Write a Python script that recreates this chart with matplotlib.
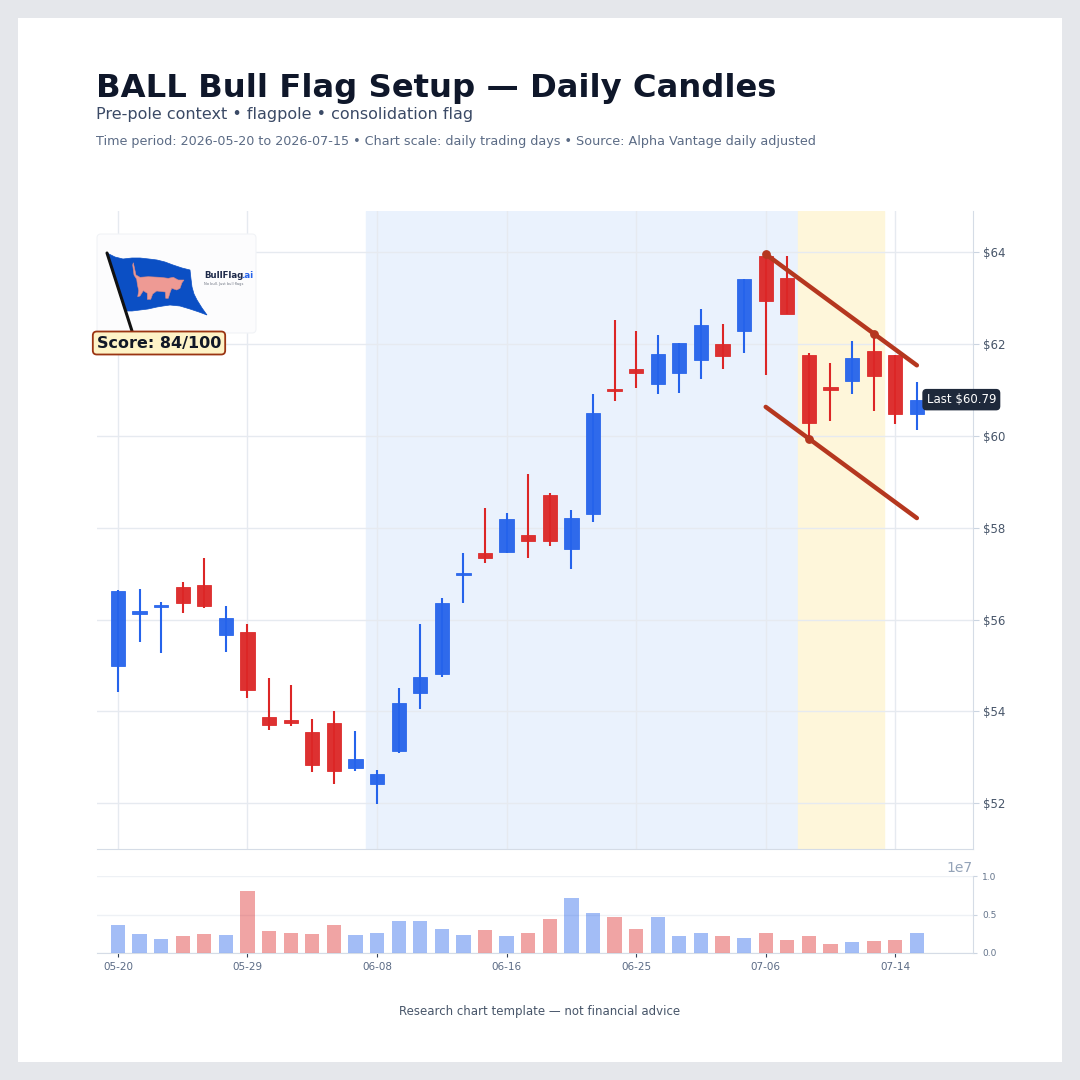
import numpy as np
import matplotlib
matplotlib.use("Agg")
import matplotlib.pyplot as plt
from matplotlib.patches import Rectangle, FancyBboxPatch, Polygon

# Data: daily candles (trading days only)
dates = ["05-20", "05-21", "05-22", "05-26", "05-27", "05-28", "05-29", "06-01",
         "06-02", "06-03", "06-04", "06-05", "06-08", "06-09", "06-10", "06-11",
         "06-12", "06-15", "06-16", "06-17", "06-18", "06-22", "06-23", "06-24",
         "06-25", "06-26", "06-29", "06-30", "07-01", "07-02", "07-06", "07-07",
         "07-08", "07-09", "07-10", "07-13", "07-14", "07-15"]
opens = [54.98, 56.13, 56.27, 56.71, 56.76, 55.67, 55.73, 53.87, 53.82, 53.55,
         53.75, 52.77, 52.41, 53.14, 54.40, 54.81, 56.96, 57.45, 57.46, 57.85,
         58.72, 57.53, 58.29, 61.00, 61.45, 61.13, 61.38, 61.65, 62.00, 62.29,
         63.93, 63.43, 61.77, 61.06, 61.19, 61.85, 61.77, 60.48]
highs = [56.64, 56.66, 56.38, 56.81, 57.33, 56.29, 55.91, 54.72, 54.57, 53.83,
         54.01, 53.57, 52.73, 54.50, 55.91, 56.46, 57.45, 58.43, 58.32, 59.18,
         58.76, 58.38, 60.91, 62.53, 62.29, 62.19, 62.03, 62.77, 62.43, 63.41,
         63.96, 63.91, 61.81, 61.59, 62.07, 62.23, 61.77, 61.18]
lows = [54.42, 55.51, 55.27, 56.15, 56.24, 55.30, 54.28, 53.59, 53.68, 52.68,
        52.41, 52.70, 51.98, 53.10, 54.04, 54.75, 56.36, 57.23, 57.45, 57.35,
        57.60, 57.10, 58.13, 60.76, 61.05, 60.91, 60.94, 61.25, 61.45, 61.81,
        61.32, 62.65, 59.94, 60.32, 60.92, 60.54, 60.27, 60.12]
closes = [56.62, 56.15, 56.31, 56.35, 56.30, 56.04, 54.46, 53.71, 53.75, 52.84,
          52.70, 52.95, 52.63, 54.18, 54.74, 56.36, 56.99, 57.34, 58.19, 57.71,
          57.71, 58.21, 60.49, 60.98, 61.36, 61.79, 62.02, 62.41, 61.74, 63.41,
          62.93, 62.65, 60.28, 61.00, 61.69, 61.30, 60.47, 60.79]
volumes_m = [3.7, 2.5, 1.8, 2.25, 2.5, 2.38, 8.1, 2.9, 2.6, 2.5, 3.7, 2.38, 2.6,
             4.2, 4.1, 3.15, 2.4, 3.0, 2.25, 2.6, 4.4, 7.2, 5.2, 4.7, 3.15, 4.7,
             2.25, 2.6, 2.25, 1.9, 2.6, 1.65, 2.25, 1.2, 1.4, 1.5, 1.7, 2.6]

# Phases (bar indices) and flag trendline anchors
pole_bars = (12, 31)
flag_bars = (32, 35)
upper_pts = [(30, 63.96), (35, 62.23)]
lower_anchor = (32, 59.94)
score_text = "Score: 84/100"

UP = "#2563eb"
DOWN = "#dc2626"
GRID = "#e6eaf0"
TEXT_MUTED = "#475569"


def draw_candles(ax, x):
    for i in x:
        o, h, l, c = opens[i], highs[i], lows[i], closes[i]
        col = UP if c >= o else DOWN
        ax.vlines(i, l, h, color=col, lw=1.5, zorder=3)
        bottom = min(o, c)
        height = max(abs(c - o), 0.05)
        ax.bar(i, height, bottom=bottom, width=0.66, color=col, alpha=0.95,
               edgecolor=col, linewidth=0.6, zorder=4)


def draw_flag_lines(ax):
    (x0, y0), (x1, y1) = upper_pts
    slope = (y1 - y0) / (x1 - x0)
    xe = len(closes) - 1
    ax.plot([x0, xe], [y0, y0 + slope * (xe - x0)], color="#b5371f", lw=3.2,
            solid_capstyle="round", zorder=6)
    lx, ly = lower_anchor
    ax.plot([x0, xe], [ly + slope * (x0 - lx), ly + slope * (xe - lx)],
            color="#b5371f", lw=3.2, solid_capstyle="round", zorder=6)
    ax.scatter([x0, x1, lx], [y0, y1, ly], s=28, color="#b5371f", zorder=7)


def draw_logo(fig):
    # small brand badge, drawn in pixel-like coordinates
    lax = fig.add_axes([96 / 1080, 1 - 335 / 1080, 162 / 1080, 102 / 1080])
    lax.set_xlim(96, 258)
    lax.set_ylim(335, 233)
    lax.axis("off")
    lax.add_patch(FancyBboxPatch((97, 234), 159, 99, boxstyle="round,pad=0,rounding_size=4",
                                 fc="#fcfcfd", ec="#f1f3f6", lw=0.8))
    flag = [(107, 253), (115, 257), (123, 259), (132, 258), (140, 258), (149, 259),
            (157, 260), (165, 262), (173, 265), (182, 268), (190, 270), (191, 279),
            (192, 287), (194, 294), (197, 300), (202, 308), (207, 315), (199, 312),
            (190, 309), (180, 306), (170, 305), (163, 306), (157, 307), (148, 309),
            (140, 310), (132, 311), (125, 311)]
    lax.add_patch(Polygon(flag, closed=True, fc="#0b4fc4", ec="#0b4fc4", lw=0.5))
    lax.plot([107, 132], [253, 331], color="#111111", lw=2.2, solid_capstyle="round")
    bull = [(133.3, 262.7), (136, 275), (140, 277.3), (148.3, 276.7), (160, 277.3),
            (168.3, 278.3), (173.3, 277.3), (178.3, 280), (184, 280), (182, 282.7),
            (180, 288.3), (176.7, 290), (171.7, 288.3), (170, 292.7), (168.3, 298.3),
            (165.7, 298.3), (165.3, 292), (156.7, 291), (152.7, 294), (150.7, 299.3),
            (147.3, 299.3), (147.3, 293.3), (143.3, 290.7), (140, 296), (137.7, 296.7),
            (138.7, 290.7), (137.3, 284), (136.7, 279.3), (134, 275), (132.7, 265)]
    lax.add_patch(Polygon(bull, closed=True, fc="#ee9a94", ec="#d98a86", lw=0.4))
    lax.text(204, 276, "BullFlag", fontsize=6.2, fontweight="bold", color="#1e2a4a",
             va="center", ha="left")
    lax.text(241.5, 276, ".ai", fontsize=6.2, fontweight="bold", color="#2563eb",
             va="center", ha="left")
    lax.text(204, 284.5, "No bull. Just bull flags", fontsize=2.6, color="#6b7280",
             va="center", ha="left")


def plot_chart():
    fig = plt.figure(figsize=(10.8, 10.8), dpi=100)
    fig.patch.set_facecolor("#e5e7eb")
    card = Rectangle((18 / 1080, 18 / 1080), 1044 / 1080, 1044 / 1080,
                     transform=fig.transFigure, fc="white", ec="none", zorder=-10)
    fig.add_artist(card)

    # Titles
    fig.text(96 / 1080, 1 - 89 / 1080, "BALL Bull Flag Setup — Daily Candles",
             fontsize=23.2, fontweight="bold", color="#0f172a", va="center")
    fig.text(96 / 1080, 1 - 115 / 1080, "Pre-pole context • flagpole • consolidation flag",
             fontsize=11.5, color="#3b4a66", va="center")
    fig.text(96 / 1080, 1 - 141 / 1080,
             "Time period: 2026-05-20 to 2026-07-15 • Chart scale: daily trading days • "
             "Source: Alpha Vantage daily adjusted",
             fontsize=9.2, color="#5b6b85", va="center")
    fig.text(0.5, 1 - 1011 / 1080, "Research chart template — not financial advice",
             fontsize=8.5, color=TEXT_MUTED, ha="center", va="center")

    x = np.arange(len(closes))
    tick_idx = x[::6]

    # Price panel
    ax = fig.add_axes([97 / 1080, 1 - 849 / 1080, 876 / 1080, 638 / 1080])
    ax.set_xlim(-0.97, 39.6)
    ax.set_ylim(51.0, 64.9)
    ax.axvspan(pole_bars[0] - 0.5, pole_bars[1] + 0.5, color="#eaf2fd", zorder=0)
    ax.axvspan(flag_bars[0] - 0.5, flag_bars[1] + 0.5, color="#fef6da", zorder=0)
    draw_candles(ax, x)
    draw_flag_lines(ax)

    ax.set_xticks(tick_idx)
    ax.set_xticklabels([])
    ax.tick_params(axis="x", length=0)
    ax.set_yticks(np.arange(52, 65, 2))
    ax.yaxis.tick_right()
    ax.set_yticklabels([f"${v}" for v in range(52, 65, 2)])
    ax.tick_params(axis="y", labelsize=8.5, labelcolor=TEXT_MUTED, color="#cbd5e1",
                   length=4, pad=3)
    ax.grid(True, color=GRID, lw=1.0, zorder=1)
    ax.set_axisbelow(True)
    for side in ["left", "top"]:
        ax.spines[side].set_visible(False)
    for side in ["right", "bottom"]:
        ax.spines[side].set_color("#d5dce6")

    ax.text(37.45, closes[-1], f"Last ${closes[-1]:.2f}", fontsize=8.5, color="white",
            ha="left", va="center", zorder=9, clip_on=False,
            bbox=dict(boxstyle="round,pad=0.3", fc="#1e293b", ec="#1e293b"))

    # Volume panel
    vax = fig.add_axes([97 / 1080, 1 - 953 / 1080, 876 / 1080, 77 / 1080])
    vol = np.array(volumes_m) * 1e6
    vcols = [UP if c >= o else DOWN for o, c in zip(opens, closes)]
    vax.bar(x, vol, width=0.66, color=vcols, alpha=0.42, zorder=3)
    vax.set_xlim(-0.97, 39.6)
    vax.set_ylim(0, 1.0e7)
    vax.set_yticks([0, 0.5e7, 1.0e7])
    vax.yaxis.tick_right()
    vax.tick_params(axis="y", labelsize=6.5, labelcolor="#64748b", color="#cbd5e1", length=3)
    vax.yaxis.get_offset_text().set_fontsize(10)
    vax.yaxis.get_offset_text().set_color("#94a3b8")
    vax.set_xticks(tick_idx)
    vax.set_xticklabels([dates[i] for i in tick_idx])
    vax.tick_params(axis="x", labelsize=7.5, labelcolor="#5b6b85", length=3, color="#334155")
    vax.grid(True, axis="y", color="#eef1f5", lw=1.0)
    vax.set_axisbelow(True)
    for side in ["left", "top"]:
        vax.spines[side].set_visible(False)
    for side in ["right", "bottom"]:
        vax.spines[side].set_color("#d5dce6")

    # Logo and score badge
    draw_logo(fig)
    fig.text(159 / 1080, 1 - 343 / 1080, score_text, fontsize=11.5, fontweight="bold",
             color="#111827", ha="center", va="center", zorder=10,
             bbox=dict(boxstyle="round,pad=0.25", fc="#fef3c7", ec="#9a3412", lw=1.3))

    fig.savefig("out.png", dpi=100, facecolor=fig.get_facecolor())


plot_chart()
